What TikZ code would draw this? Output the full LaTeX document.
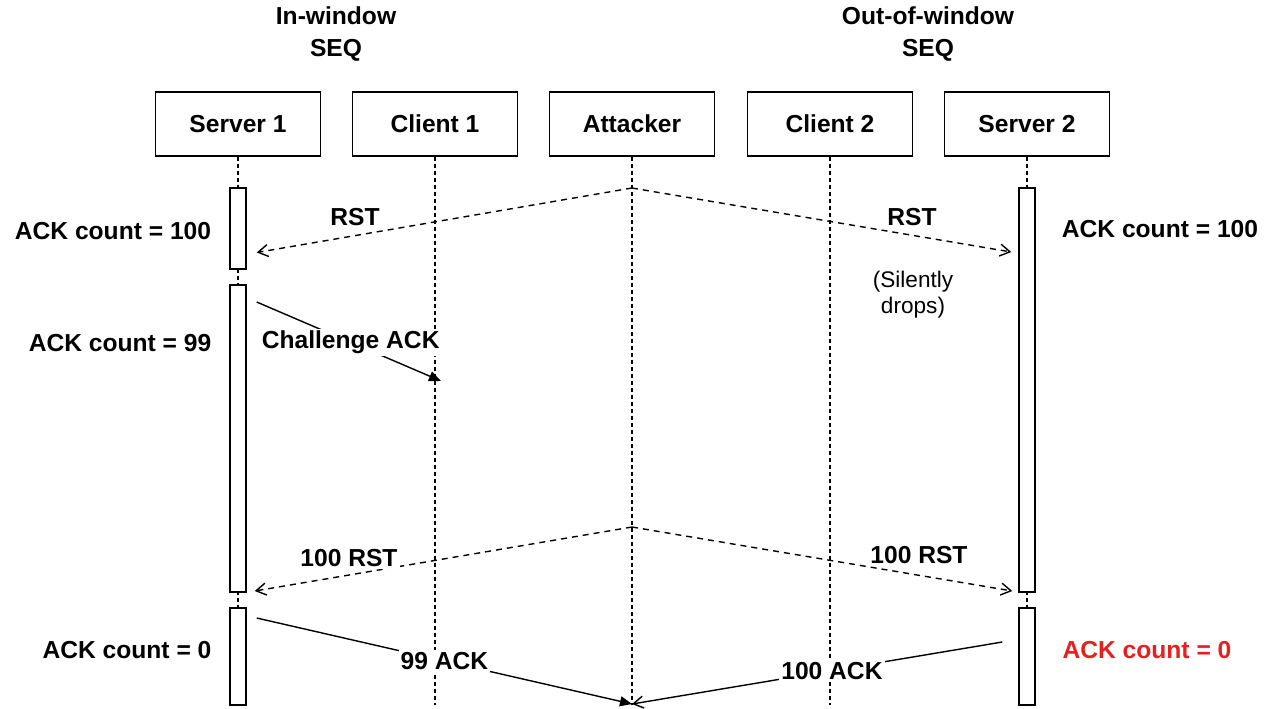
\documentclass[tikz,border=0pt]{standalone}
\usepackage{fontspec}
\setmainfont{Liberation Sans}
\usetikzlibrary{arrows.meta}
\definecolor{alertred}{RGB}{228,32,32}

\begin{document}
\begin{tikzpicture}[
  x=0.5pt, y=-0.5pt,
  head/.style={draw, line width=0.7pt, minimum width=82.5pt, minimum height=32pt, font=\fontsize{12.3}{16}\selectfont\bfseries},
  bar/.style={draw, fill=white, line width=0.7pt, minimum width=8pt, inner sep=0pt},
  life/.style={line width=0.7pt, dash pattern=on 2pt off 1.5pt},
  lbl/.style={font=\fontsize{12.3}{16}\selectfont\bfseries, align=center},
  note/.style={font=\fontsize{11.3}{13}\selectfont, align=center},
  tag/.style={lbl, fill=white, inner sep=1pt},
  msg/.style={line width=0.7pt, -{Triangle[length=6pt,width=5pt]}},
  reply/.style={line width=0.7pt, -{Straight Barb[length=5pt,width=6pt]}},
  rst/.style={reply, dash pattern=on 3pt off 2.5pt}
]
\useasboundingbox (0,0) rectangle (1272,708);

\node[lbl] (inwin) at (336,34) {In-window\\SEQ};
\node[lbl] (outwin) at (928,34) {Out-of-window\\SEQ};

\node[head] (server1) at (238,124) {Server 1};
\node[head] (client1) at (435,124) {Client 1};
\node[head] (attacker) at (632,124) {Attacker};
\node[head] (client2) at (830,124) {Client 2};
\node[head] (server2) at (1027,124) {Server 2};

\foreach \n/\x in {server1/238, client1/435, attacker/632, client2/830, server2/1027} {
  \coordinate (\n end) at (\x,705);
  \draw[life] (\n) -- (\n end);
}

\node[bar, minimum height=40.5pt] (s1act1) at (238,228.5) {};
\node[bar, minimum height=153.5pt] (s1act2) at (238,438.5) {};
\node[bar, minimum height=48.5pt] (s1act3) at (238,656.5) {};
\node[bar, minimum height=202pt] (s2act1) at (1027,390) {};
\node[bar, minimum height=48.5pt] (s2act2) at (1027,656.5) {};

\coordinate (rst1) at (632,188);
\coordinate (rst2) at (632,527);
\coordinate (chal) at (441,381);
\coordinate (atkin) at (632,704);

\draw[rst] (rst1) -- ([shift={(10,24)}]s1act1.east);
\draw[rst] (rst1) -- ([shift={(-7,-138)}]s2act1.west);
\node[lbl] (rstl) at (355,217) {RST};
\node[lbl] (rstr) at (912,217) {RST};
\node[note] (drop) at (913,295) {(Silently\\drops)};

\draw[msg] ([shift={(10,-136.5)}]s1act2.east) -- node[tag, pos=0.51] {Challenge ACK} (chal);

\draw[rst] (rst2) -- ([shift={(8,152.5)}]s1act2.east);
\draw[rst] (rst2) -- ([shift={(-6,201)}]s2act1.west);
\node[tag] (rst100l) at (349,558) {100 RST};
\node[tag] (rst100r) at (919,555) {100 RST};

\draw[msg] ([shift={(10,-38.5)}]s1act3.east) -- node[tag, pos=0.5] {99 ACK} (atkin);
\draw[reply] ([shift={(-16,-14.5)}]s2act2.west) -- node[tag, pos=0.46] {100 ACK} (atkin);

\node[lbl] (cnt1) at (113,231) {ACK count = 100};
\node[lbl] (cnt2) at (120,343) {ACK count = 99};
\node[lbl] (cnt3) at (127,650) {ACK count = 0};
\node[lbl] (cnt4) at (1160,229) {ACK count = 100};
\node[lbl, text=alertred] (cnt5) at (1147,650) {ACK count = 0};
\end{tikzpicture}
\end{document}
